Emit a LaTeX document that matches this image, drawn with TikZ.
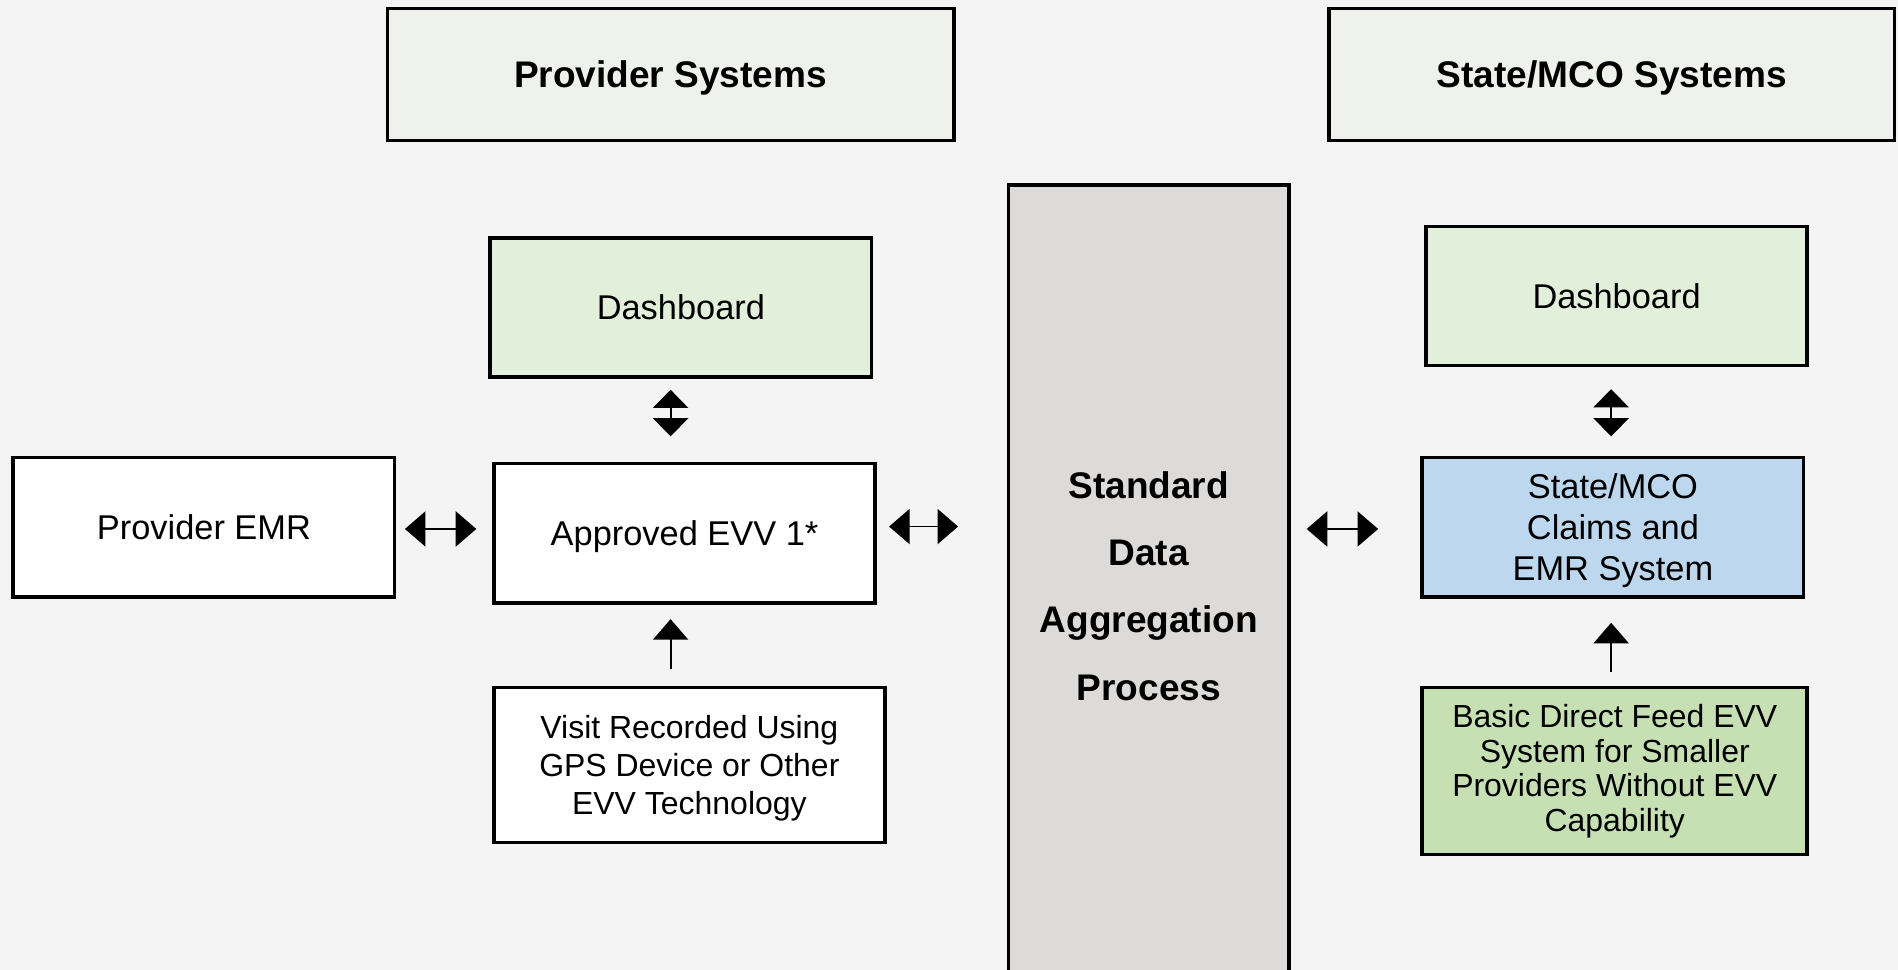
\documentclass[tikz,border=0pt]{standalone}
\usepackage{fontspec}
\setmainfont{Liberation Sans}
\usetikzlibrary{arrows.meta}
\definecolor{bgc}{HTML}{F4F4F4}
\definecolor{hdrc}{HTML}{EFF1EC}
\definecolor{dashc}{HTML}{E2EFDA}
\definecolor{aggc}{HTML}{DCDBD9}
\definecolor{claimc}{HTML}{BDD7EE}
\definecolor{basicc}{HTML}{C6E0B4}
\tikzset{
  box/.style={draw=black, line width=1.5pt, rectangle, align=center, inner sep=0pt, text depth=0pt, minimum width=157.5pt, minimum height=57.5pt, font=\fontsize{14.2}{17}\selectfont},
  hdr/.style={box, fill=hdrc, font=\fontsize{15.3}{18}\selectfont\bfseries},
  tipx/.tip={Triangle[length=8.5pt,width=14.5pt]},
  tipv/.tip={Triangle[length=7.5pt,width=14.5pt]},
  dbl/.style={line width=0.75pt, tipx-tipx},
  dblv/.style={line width=0.75pt, tipv-tipv},
  sgl/.style={line width=0.75pt, -tipx},
}
\begin{document}
\begin{tikzpicture}[x=0.5pt,y=-0.5pt]
\fill[bgc] (0,0) rectangle (1568,801);
\useasboundingbox (0,0) rectangle (1568,801);

\node[hdr, minimum width=234pt, minimum height=54.5pt] (hprov) at (554,61.5) {Provider Systems};
\node[hdr, minimum width=233.5pt, minimum height=54.5pt] (hstate) at (1331.5,61.5) {State/MCO Systems};

\node[box, fill=aggc, minimum width=116pt, minimum height=331pt, font=\fontsize{15.3}{27.8}\selectfont\bfseries] (agg) at (949,484) {Standard\\Data\\Aggregation\\Process};

\node[box, fill=dashc] (dashL) at (562.5,254) {Dashboard};
\node[box, fill=dashc] (dashR) at (1335.5,244.5) {Dashboard};
\node[box, fill=white] (emr) at (168.5,435.5) {Provider EMR};
\node[box, fill=white] (evv) at (565.5,440.5) {Approved EVV 1*};
\node[box, fill=white, minimum width=161.5pt, minimum height=64pt, font=\fontsize{13.2}{15.75}\selectfont] (visit) at (569.5,632) {Visit Recorded Using\\GPS Device or Other\\EVV Technology};
\node[box, fill=claimc, font=\fontsize{14.2}{17}\selectfont] (claims) at (1332.5,435.5) {State/MCO\\Claims and\\EMR System};
\node[box, fill=basicc, text depth=, minimum width=159pt, minimum height=69pt, font=\fontsize{13.2}{14.25}\selectfont] (basic) at (1334,637) {Basic Direct Feed EVV\\System for Smaller\\Providers Without EVV\\Capability};

% connectors
\draw[dbl, shorten <=3.5pt, shorten >=6.5pt] ([yshift=-0.75pt]emr.east) -- ([yshift=-0.75pt]emr.east -| evv.west);
\draw[dbl, shorten <=5pt, shorten >=20pt] ([yshift=2.75pt]evv.east) -- ([yshift=2.75pt]evv.east -| agg.west);
\draw[dbl, shorten <=6.5pt, shorten >=17.5pt] ([yshift=-0.75pt]agg.east |- claims.west) -- ([yshift=-0.75pt]claims.west);
\draw[dblv, shorten <=4.5pt, shorten >=10.5pt] ([xshift=-4.25pt]dashL.south) -- ([xshift=-4.25pt]dashL.south |- evv.north);
\draw[dblv, shorten <=9pt, shorten >=8pt] ([xshift=-2.25pt]dashR.south) -- ([xshift=-2.25pt]dashR.south |- claims.north);
\draw[sgl, shorten <=7pt, shorten >=6pt] ([xshift=-7.75pt]visit.north) -- ([xshift=-7.75pt]visit.north |- evv.south);
\draw[sgl, shorten <=5.5pt, shorten >=10pt] ([xshift=-1.5pt]basic.north) -- ([xshift=-1.5pt]basic.north |- claims.south);
\end{tikzpicture}
\end{document}
